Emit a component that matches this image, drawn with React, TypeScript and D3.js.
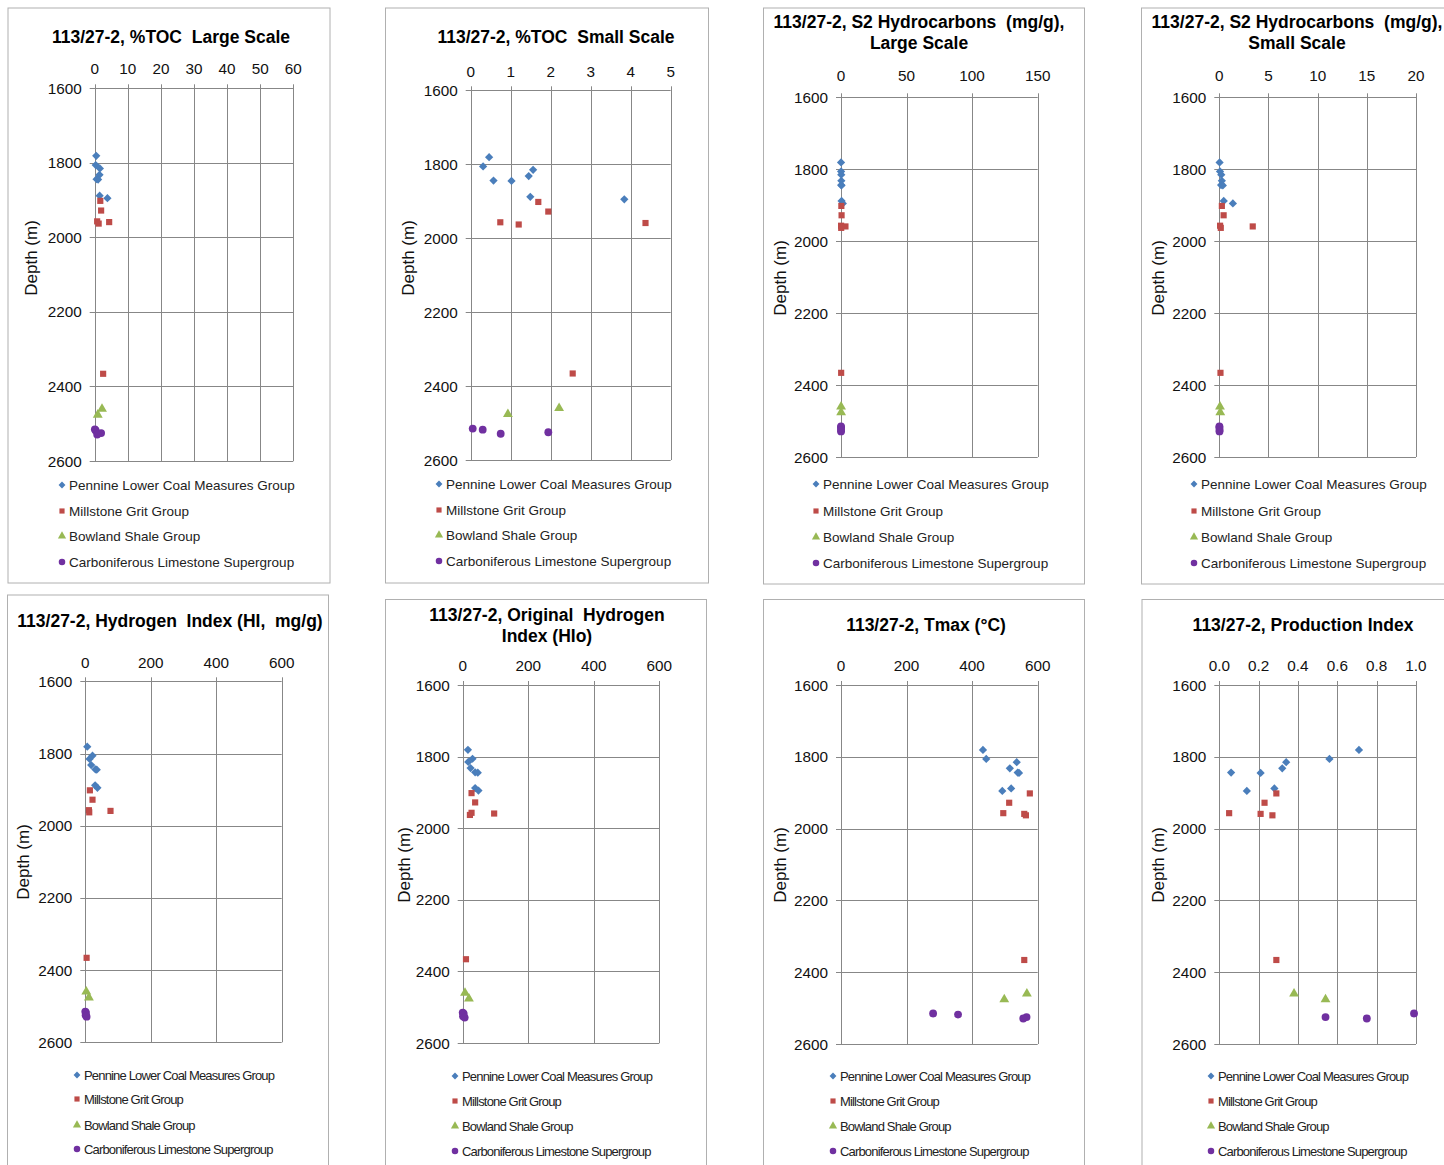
import React from 'react'
import * as d3 from 'd3'

// formation groups, legend order
const groups = [
  'Pennine Lower Coal Measures Group',
  'Millstone Grit Group',
  'Bowland Shale Group',
  'Carboniferous Limestone Supergroup',
]
const groupColors = ['#4a7ebb', '#be4b48', '#98b954', '#7030a0']
const groupShapes = ['diamond', 'square', 'triangle', 'circle']

// sample depths (m) per group
const depthPennine = [1781, 1806, 1815, 1832, 1844, 1845, 1888, 1895]
const depthMillstone = [1902, 1928, 1957, 1959, 1963, 2366]
const depthBowland = [2460, 2476]
const depthLimestone = [2515, 2518, 2525, 2529]
const depths = [depthPennine, depthMillstone, depthBowland, depthLimestone]

// measurements, one inner array per group (same order as depths)
const toc = [
  [0.46, 0.31, 1.56, 1.45, 0.57, 1.02, 1.49, 3.84],
  [1.69, 1.94, 0.74, 4.37, 1.2, 2.55],
  [2.21, 0.93],
  [0.05, 0.3, 1.94, 0.75],
]
const s2 = [
  [0.03, 0.07, 0.2, 0.26, 0.18, 0.36, 0.45, 1.38],
  [0.26, 0.44, 0.08, 3.4, 0.15, 0.12],
  [0.07, 0.1],
  [0.01, 0.01, 0.03, 0.02],
]
const hi = [
  [6, 22, 13, 18, 31, 35, 30, 37],
  [14, 22, 11, 77, 12, 4],
  [3, 11],
  [0, 2, 1, 4],
]
const hio = [
  [16, 30, 17, 24, 38, 46, 38, 48],
  [27, 38, 27, 96, 22, 10],
  [7, 19],
  [0, 3, 1, 6],
]
const tmax = [
  [433, 443, 536, 515, 539, 543, 519, 492],
  [576, 513, 495, 559, 564, 559],
  [567, 498],
  [281, 357, 566, 556],
]
const pi = [
  [0.71, 0.56, 0.34, 0.32, 0.06, 0.21, 0.28, 0.14],
  [0.29, 0.23, 0.05, 0.21, 0.27, 0.29],
  [0.38, 0.54],
  [0.99, null, 0.54, 0.75],
]

const depthTicks = [1600, 1800, 2000, 2200, 2400, 2600]
const tocLargeTicks = [0, 10, 20, 30, 40, 50, 60]
const tocSmallTicks = [0, 1, 2, 3, 4, 5]
const s2LargeTicks = [0, 50, 100, 150]
const s2SmallTicks = [0, 5, 10, 15, 20]
const hiTicks = [0, 200, 400, 600]
const piTicks = [0, 0.2, 0.4, 0.6, 0.8, 1.0]

const FONT = '"Liberation Sans", Arial, sans-serif'
const GRID = '#878787'

const panels = [
  { title: ['113/27-2, %TOC  Large Scale'], values: toc, ticks: tocLargeTicks, fmt: d3.format('d'),
    frame: [8, 8, 322, 575], plot: [94.7, 293.3, 88.3, 461], titleX: 171, titleY: 43, xLabY: 74,
    depthX: 31, depthY: 258, legX: 62, legY: [485, 511, 536, 562], condensed: false },
  { title: ['113/27-2, %TOC  Small Scale'], values: toc, ticks: tocSmallTicks, fmt: d3.format('d'),
    frame: [385.5, 8, 323, 575], plot: [470.7, 670.7, 90.3, 460], titleX: 556, titleY: 43, xLabY: 77,
    depthX: 408, depthY: 258, legX: 439, legY: [484, 510, 535, 561], condensed: false },
  { title: ['113/27-2, S2 Hydrocarbons  (mg/g),', 'Large Scale'], values: s2, ticks: s2LargeTicks, fmt: d3.format('d'),
    frame: [763.5, 8, 321, 576], plot: [841, 1037.7, 97.3, 457], titleX: 919, titleY: 28, xLabY: 81,
    depthX: 780, depthY: 278, legX: 816, legY: [484, 511, 537, 563], condensed: false },
  { title: ['113/27-2, S2 Hydrocarbons  (mg/g),', 'Small Scale'], values: s2, ticks: s2SmallTicks, fmt: d3.format('d'),
    frame: [1141.5, 8, 320, 576], plot: [1219.3, 1416, 97.3, 457], titleX: 1297, titleY: 28, xLabY: 81,
    depthX: 1158, depthY: 278, legX: 1194, legY: [484, 511, 537, 563], condensed: false },
  { title: ['113/27-2, Hydrogen  Index (HI,  mg/g)'], values: hi, ticks: hiTicks, fmt: d3.format('d'),
    frame: [7.5, 595, 321, 590], plot: [85.3, 281.7, 681.3, 1042.3], titleX: 170, titleY: 627, xLabY: 668,
    depthX: 23, depthY: 862, legX: 77, legY: [1075, 1099, 1125, 1149], condensed: true },
  { title: ['113/27-2, Original  Hydrogen', 'Index (HIo)'], values: hio, ticks: hiTicks, fmt: d3.format('d'),
    frame: [385.5, 599.5, 321, 590], plot: [462.7, 659.3, 685, 1043], titleX: 547, titleY: 621, xLabY: 671,
    depthX: 404, depthY: 865, legX: 455, legY: [1076, 1101, 1126, 1151], condensed: true },
  { title: ['113/27-2, Tmax (°C)'], values: tmax, ticks: hiTicks, fmt: d3.format('d'),
    frame: [763.5, 599.5, 321, 590], plot: [841, 1037.7, 685, 1044], titleX: 926, titleY: 631, xLabY: 671,
    depthX: 780, depthY: 865, legX: 833, legY: [1076, 1101, 1126, 1151], condensed: true },
  { title: ['113/27-2, Production Index'], values: pi, ticks: piTicks, fmt: d3.format('.1f'),
    frame: [1142, 599.5, 320, 590], plot: [1219.3, 1416, 685, 1044], titleX: 1303, titleY: 631, xLabY: 671,
    depthX: 1158, depthY: 865, legX: 1211, legY: [1076, 1101, 1126, 1151], condensed: true },
]

function markerPath(shape, big) {
  const k = big ? 1 : 0.7
  if (shape === 'diamond') return d3.symbol(d3.symbolSquare, 34 * k)()
  if (shape === 'square') return d3.symbol(d3.symbolSquare, 38 * k)()
  if (shape === 'triangle') return d3.symbol(d3.symbolTriangle, 42 * k)()
  return d3.symbol(d3.symbolCircle, 48 * k)()
}

function Marker({ gi, cx, cy, big }) {
  const shape = groupShapes[gi]
  const rot = shape === 'diamond' ? ' rotate(45)' : ''
  return <path d={markerPath(shape, big)} transform={`translate(${cx},${cy})${rot}`} fill={groupColors[gi]} />
}

function Panel({ p }) {
  const [l, r, t, b] = p.plot
  const x = d3.scaleLinear().domain([p.ticks[0], p.ticks[p.ticks.length - 1]]).range([l, r])
  const y = d3.scaleLinear().domain([1600, 2600]).range([t, b])
  const [fx, fy, fw, fh] = p.frame
  return (
    <g>
      <rect x={fx} y={fy} width={fw} height={fh} fill="#fff" stroke="#b0b0b0" strokeWidth={1} />
      {p.title.map((line, i) => (
        <text key={i} x={p.titleX} y={p.titleY + i * 21} textAnchor="middle" fontFamily={FONT}
          fontWeight="bold" fontSize={17.5} fill="#000" style={{ whiteSpace: 'pre' }}>{line}</text>
      ))}
      {/* grid */}
      {depthTicks.map(d => (
        <line key={'h' + d} x1={l - 5} x2={r} y1={Math.round(y(d)) + 0.5} y2={Math.round(y(d)) + 0.5} stroke={GRID} />
      ))}
      {p.ticks.map(v => (
        <line key={'v' + v} x1={Math.round(x(v)) + 0.5} x2={Math.round(x(v)) + 0.5} y1={t - 4} y2={b} stroke={GRID} />
      ))}
      {depthTicks.map(d => (
        <text key={'yl' + d} x={l - 13} y={y(d) + 5.5} textAnchor="end" fontFamily={FONT} fontSize={15.3} fill="#111">{d}</text>
      ))}
      {p.ticks.map(v => (
        <text key={'xl' + v} x={x(v)} y={p.xLabY} textAnchor="middle" fontFamily={FONT} fontSize={15.3} fill="#111">{p.fmt(v)}</text>
      ))}
      <text transform={`translate(${p.depthX},${p.depthY}) rotate(-90)`} textAnchor="middle" dy="0.35em"
        fontFamily={FONT} fontSize={17} fill="#111">Depth (m)</text>
      {/* points */}
      {p.values.map((vals, gi) => vals.map((v, i) => v == null ? null : (
        <Marker key={gi + '-' + i} gi={gi} cx={x(v)} cy={y(depths[gi][i])} big={true} />
      )))}
      {/* legend */}
      {groups.map((g, gi) => (
        <g key={g}>
          <Marker gi={gi} cx={p.legX} cy={p.legY[gi]} big={false} />
          <text x={p.legX + 7} y={p.legY[gi] + 5} fontFamily={FONT} fontSize={p.condensed ? 13 : 13.5}
            letterSpacing={p.condensed ? -0.83 : 0} fill="#222">{g}</text>
        </g>
      ))}
    </g>
  )
}

export default function App() {
  return (
    <svg width={1444} height={1165} style={{ position: 'absolute', left: 0, top: 0, background: '#fff' }}>
      <rect width={1444} height={1165} fill="#fff" />
      {panels.map((p, i) => <Panel key={i} p={p} />)}
    </svg>
  )
}
